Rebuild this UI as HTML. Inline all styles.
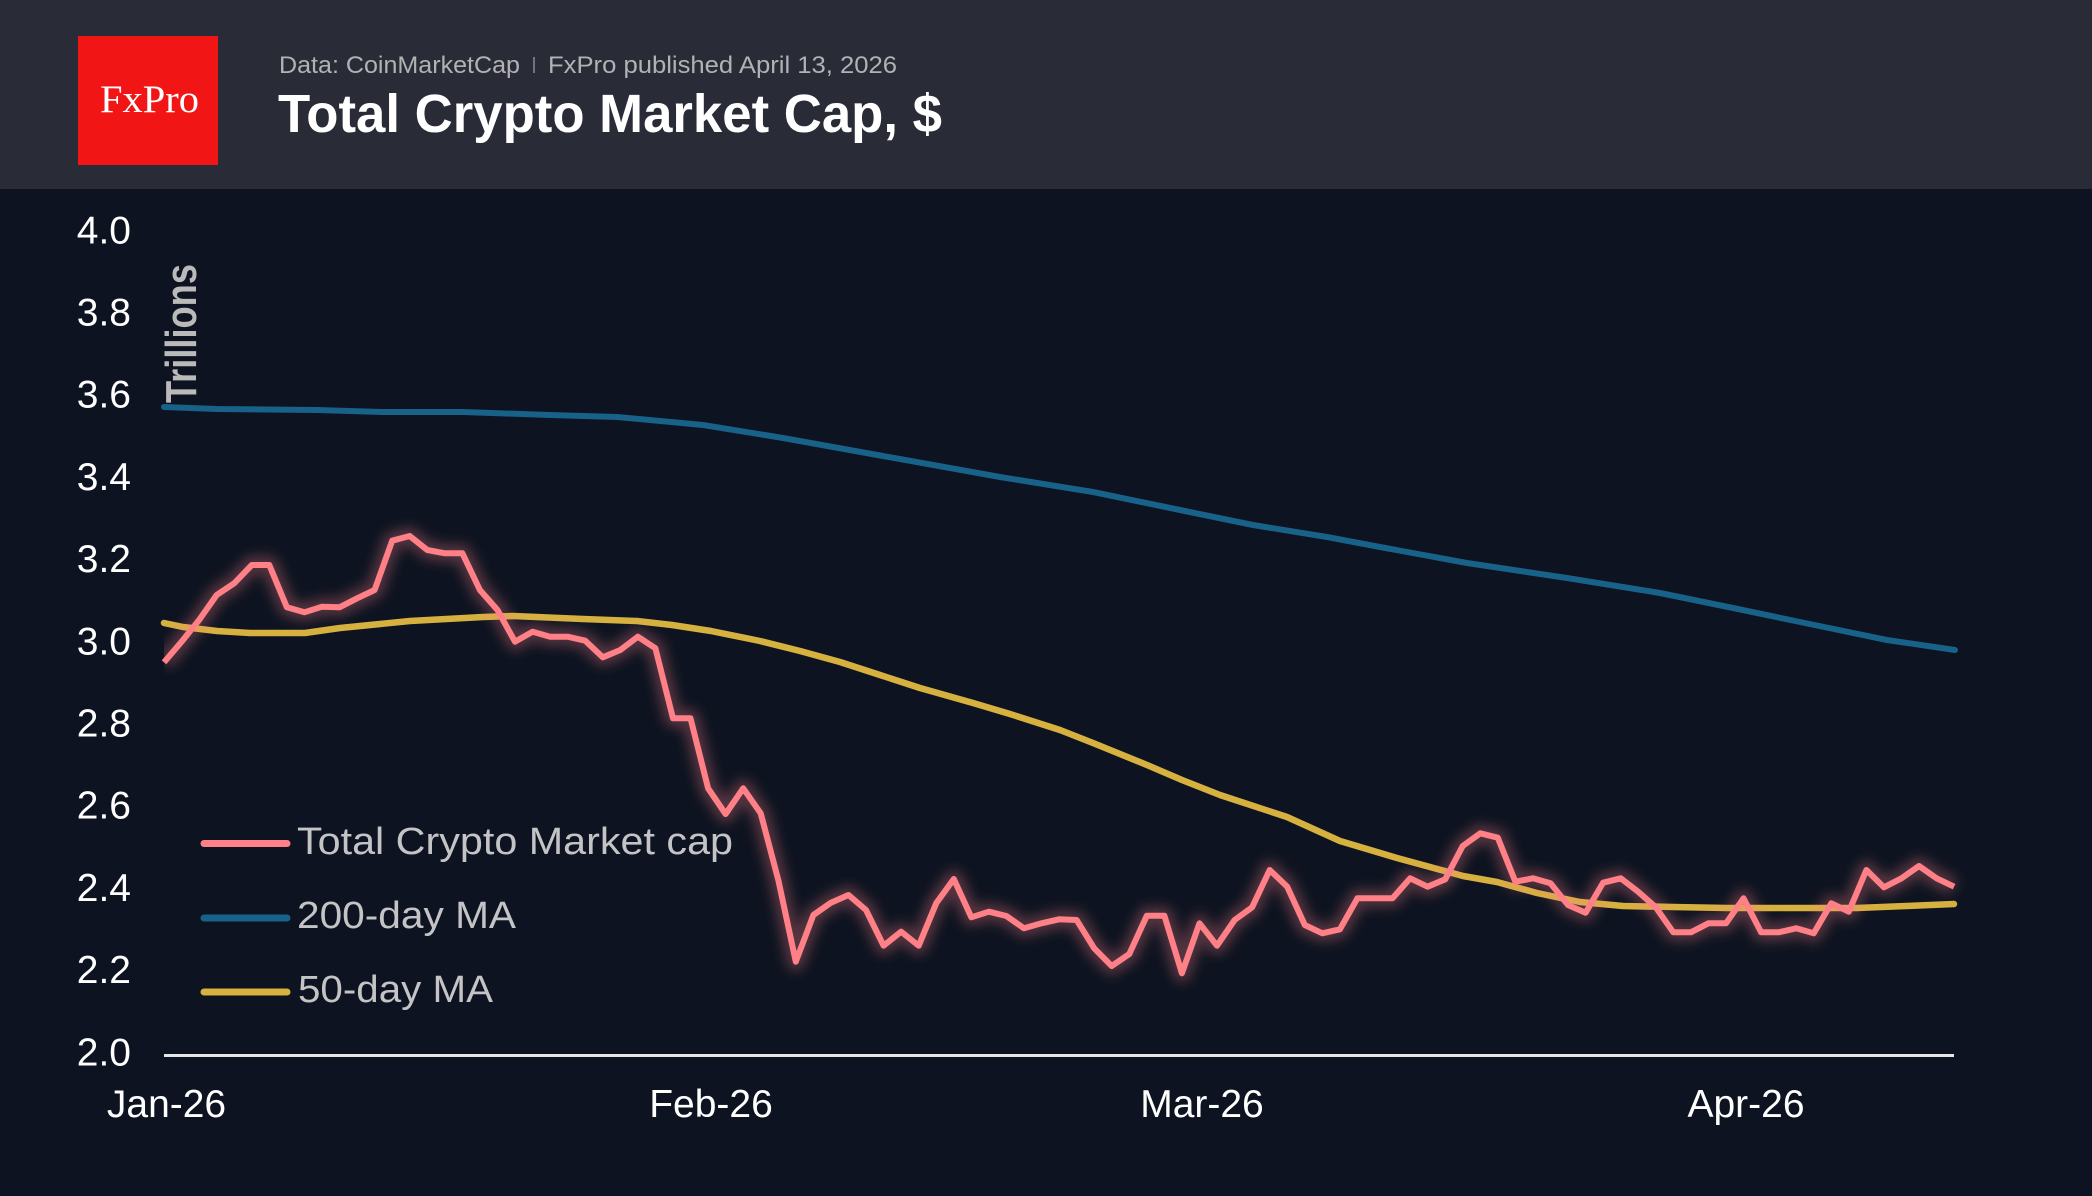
<!DOCTYPE html>
<html>
<head>
<meta charset="utf-8">
<style>
  html,body{margin:0;padding:0;background:#0d1320;}
  svg{display:block;}
  text{font-family:"Liberation Sans",Arial,sans-serif;}
</style>
</head>
<body>
<svg width="2092" height="1196" viewBox="0 0 2092 1196" xmlns="http://www.w3.org/2000/svg">
  <defs>
    <filter id="glow" x="-5%" y="-30%" width="110%" height="160%">
      <feGaussianBlur stdDeviation="6"/>
    </filter>
    <clipPath id="plotclip">
      <rect x="164" y="190" width="1900" height="1006"/>
    </clipPath>
  </defs>

  <!-- backgrounds -->
  <rect x="0" y="0" width="2092" height="1196" fill="#0d1320"/>
  <rect x="0" y="0" width="2092" height="189" fill="#292b37"/>

  <!-- logo -->
  <rect x="78" y="36" width="140" height="129" fill="#f21516"/>
  <text x="100" y="112" font-size="39" fill="#ffffff" textLength="99" lengthAdjust="spacingAndGlyphs" style="font-family:'Liberation Serif',serif">FxPro</text>

  <!-- header texts -->
  <text x="279" y="73" font-size="24" fill="#b2b2b4" textLength="241" lengthAdjust="spacingAndGlyphs">Data: CoinMarketCap</text>
  <line x1="534" y1="57" x2="534" y2="73" stroke="#8a8c94" stroke-width="1.5"/>
  <text x="548" y="73" font-size="24" fill="#b2b2b4" textLength="349" lengthAdjust="spacingAndGlyphs">FxPro published April 13, 2026</text>
  <text x="278" y="132" font-size="54" font-weight="bold" fill="#ffffff" textLength="664" lengthAdjust="spacingAndGlyphs">Total Crypto Market Cap, $</text>

  <!-- y tick labels -->
  <g font-size="39" fill="#ffffff" text-anchor="end">
    <text x="131" y="243.3">4.0</text>
    <text x="131" y="325.5">3.8</text>
    <text x="131" y="407.7">3.6</text>
    <text x="131" y="490">3.4</text>
    <text x="131" y="572">3.2</text>
    <text x="131" y="654.3">3.0</text>
    <text x="131" y="736.5">2.8</text>
    <text x="131" y="818.7">2.6</text>
    <text x="131" y="901">2.4</text>
    <text x="131" y="983">2.2</text>
    <text x="131" y="1065.3">2.0</text>
  </g>

  <!-- x tick labels -->
  <g font-size="39" fill="#ffffff" text-anchor="middle">
    <text x="166.5" y="1117">Jan-26</text>
    <text x="711" y="1117">Feb-26</text>
    <text x="1202" y="1117">Mar-26</text>
    <text x="1746" y="1117">Apr-26</text>
  </g>

  <!-- axis line -->
  <line x1="164" y1="1055.5" x2="1954" y2="1055.5" stroke="#e6e6e6" stroke-width="3"/>

  <!-- 200-day MA -->
  <path d="M164,407 L217,409 L317,410 L383,412 L463,412 L550,415 L617,417 L703,425 L783,438 L883,456 L950,468 L1000,477 L1093,492 L1180,510 L1253,525 L1327,537 L1380,547 L1467,563 L1567,578 L1660,593 L1733,608 L1800,622 L1887,640 L1955,650"
        fill="none" stroke="#186189" stroke-width="6" stroke-linecap="round" stroke-linejoin="round"/>

  <!-- 50-day MA -->
  <path d="M164,623 L183,627 L217,631 L250,633 L305,633 L340,628 L410,621 L483,617 L513,616 L583,619 L637,621 L672,625 L711,631 L760,641 L800,651 L840,662 L880,675 L920,688 L973,703 L1010,714 L1060,730 L1093,743 L1147,765 L1182,780 L1220,795 L1287,817 L1340,841 L1397,858 L1463,876 L1497,882 L1537,893 L1580,902 L1623,906 L1673,907 L1727,908 L1807,908 L1857,908 L1907,906 L1954,904"
        fill="none" stroke="#d6b13f" stroke-width="6.5" stroke-linecap="round" stroke-linejoin="round"/>

  <!-- Total crypto market cap: glow + line -->
  <g clip-path="url(#plotclip)">
    <path d="M164,662.3 L181.6,641.7 L199.1,620 L216.7,595 L234.2,583.3 L251.8,565 L269.3,565 L286.9,607.3 L304.4,612.3 L322,606.7 L339.5,607.3 L357.1,598.3 L374.6,590 L392.2,540.7 L409.7,536 L427.3,550 L444.8,553.3 L462.4,553.3 L479.9,590 L497.5,610 L515,641.7 L532.6,631.7 L550.1,636.7 L567.7,636.7 L585.2,640.7 L602.8,657.3 L620.3,650 L637.9,636.7 L655.4,648.3 L673,718.3 L690.5,718.3 L708.1,788.3 L725.6,814 L743.2,788.3 L760.7,813.3 L778.3,880 L795.8,961.7 L813.4,915 L830.9,902.7 L848.5,895 L866,910 L883.6,945.7 L901.1,931.7 L918.7,945.7 L936.2,903.3 L953.8,879 L971.3,917.3 L988.9,911.7 L1006.4,916 L1024,928.3 L1041.5,923.3 L1059.1,919.3 L1076.6,920 L1094.2,948.3 L1111.7,966 L1129.3,954 L1146.8,915.7 L1164.4,915.7 L1181.9,973.3 L1199.5,923.3 L1217,945.7 L1234.6,920 L1252.1,907.3 L1269.7,870 L1287.2,886.7 L1304.8,925 L1322.3,933.3 L1339.9,929.3 L1357.4,898.3 L1375,898.3 L1392.5,898.3 L1410.1,878.3 L1427.6,886.7 L1445.2,879.3 L1462.7,846 L1480.3,833.3 L1497.8,837.7 L1515.4,881.7 L1532.9,878.3 L1550.5,883.3 L1568,905 L1585.6,912.7 L1603.1,882.7 L1620.7,878.3 L1638.2,891.7 L1655.8,907.3 L1673.3,932.3 L1690.9,932.3 L1708.4,923.3 L1726,923.3 L1743.5,898.3 L1761.1,932.3 L1778.6,932.3 L1796.2,928.3 L1813.7,933.3 L1831.3,903.3 L1848.8,911.7 L1866.4,870 L1883.9,887.3 L1901.5,878.3 L1919,866 L1936.6,878.3 L1954.1,886.7"
          fill="none" stroke="#ff8087" stroke-opacity="0.3" stroke-width="18" stroke-linejoin="round" filter="url(#glow)"/>
  </g>
  <path d="M164,662.3 L181.6,641.7 L199.1,620 L216.7,595 L234.2,583.3 L251.8,565 L269.3,565 L286.9,607.3 L304.4,612.3 L322,606.7 L339.5,607.3 L357.1,598.3 L374.6,590 L392.2,540.7 L409.7,536 L427.3,550 L444.8,553.3 L462.4,553.3 L479.9,590 L497.5,610 L515,641.7 L532.6,631.7 L550.1,636.7 L567.7,636.7 L585.2,640.7 L602.8,657.3 L620.3,650 L637.9,636.7 L655.4,648.3 L673,718.3 L690.5,718.3 L708.1,788.3 L725.6,814 L743.2,788.3 L760.7,813.3 L778.3,880 L795.8,961.7 L813.4,915 L830.9,902.7 L848.5,895 L866,910 L883.6,945.7 L901.1,931.7 L918.7,945.7 L936.2,903.3 L953.8,879 L971.3,917.3 L988.9,911.7 L1006.4,916 L1024,928.3 L1041.5,923.3 L1059.1,919.3 L1076.6,920 L1094.2,948.3 L1111.7,966 L1129.3,954 L1146.8,915.7 L1164.4,915.7 L1181.9,973.3 L1199.5,923.3 L1217,945.7 L1234.6,920 L1252.1,907.3 L1269.7,870 L1287.2,886.7 L1304.8,925 L1322.3,933.3 L1339.9,929.3 L1357.4,898.3 L1375,898.3 L1392.5,898.3 L1410.1,878.3 L1427.6,886.7 L1445.2,879.3 L1462.7,846 L1480.3,833.3 L1497.8,837.7 L1515.4,881.7 L1532.9,878.3 L1550.5,883.3 L1568,905 L1585.6,912.7 L1603.1,882.7 L1620.7,878.3 L1638.2,891.7 L1655.8,907.3 L1673.3,932.3 L1690.9,932.3 L1708.4,923.3 L1726,923.3 L1743.5,898.3 L1761.1,932.3 L1778.6,932.3 L1796.2,928.3 L1813.7,933.3 L1831.3,903.3 L1848.8,911.7 L1866.4,870 L1883.9,887.3 L1901.5,878.3 L1919,866 L1936.6,878.3 L1954.1,886.7"
        fill="none" stroke="#ff8087" stroke-width="6" stroke-linejoin="round" stroke-linecap="butt"/>

  <!-- Trillions axis title -->
  <text transform="translate(196,403) rotate(-90)" x="0" y="0" font-size="44" font-weight="bold" fill="#bababa" textLength="139" lengthAdjust="spacingAndGlyphs">Trillions</text>

  <!-- legend -->
  <line x1="204" y1="843.5" x2="287" y2="843.5" stroke="#ff8087" stroke-width="7" stroke-linecap="round"/>
  <line x1="204" y1="918" x2="287" y2="918" stroke="#186189" stroke-width="7" stroke-linecap="round"/>
  <line x1="204" y1="992" x2="287" y2="992" stroke="#d6b13f" stroke-width="7" stroke-linecap="round"/>
  <g font-size="38" fill="#c4c4c6">
    <text x="297" y="854" textLength="436" lengthAdjust="spacingAndGlyphs">Total Crypto Market cap</text>
    <text x="297" y="928" textLength="219" lengthAdjust="spacingAndGlyphs">200-day MA</text>
    <text x="298" y="1002" textLength="195" lengthAdjust="spacingAndGlyphs">50-day MA</text>
  </g>
</svg>
</body>
</html>
